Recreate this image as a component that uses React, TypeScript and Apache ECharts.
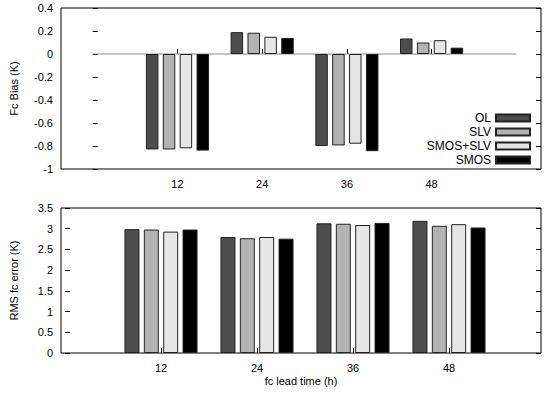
import React, { useEffect, useRef } from "react";
import * as echarts from "echarts";

const leadTimes = [12, 24, 36, 48];
const seriesNames = ["OL", "SLV", "SMOS+SLV", "SMOS"];
const seriesColors = ["#4d4d4d", "#b3b3b3", "#e6e6e6", "#000000"];

const biasOL = [-0.83, 0.19, -0.8, 0.135];
const biasSLV = [-0.83, 0.185, -0.795, 0.1];
const biasSMOSSLV = [-0.82, 0.15, -0.78, 0.12];
const biasSMOS = [-0.84, 0.14, -0.845, 0.055];

const rmsOL = [2.99, 2.8, 3.13, 3.19];
const rmsSLV = [2.98, 2.77, 3.12, 3.07];
const rmsSMOSSLV = [2.93, 2.8, 3.09, 3.11];
const rmsSMOS = [2.98, 2.76, 3.14, 3.03];

const zeroLineX = [0, 60];

const biasData = [biasOL, biasSLV, biasSMOSSLV, biasSMOS];
const rmsData = [rmsOL, rmsSLV, rmsSMOSSLV, rmsSMOS];

const FONT = "Liberation Sans";

export default function App() {
  const ref = useRef<HTMLDivElement>(null);
  useEffect(() => {
    if (!ref.current) return;
    const chart = echarts.init(ref.current, null, { renderer: "svg" });
    const labelStyle = { color: "#000", fontFamily: FONT, fontSize: 11 };
    const xAxisCommon = (gridIndex: number, min: number, max: number, withName: boolean) => ({
      type: "value",
      gridIndex,
      min,
      max,
      axisLine: { show: false },
      splitLine: { show: false },
      axisTick: { show: true, inside: true, length: 5, customValues: leadTimes, lineStyle: { color: "#000" } },
      axisLabel: { ...labelStyle, margin: 9, customValues: leadTimes },
      name: withName ? "fc lead time (h)" : "",
      nameLocation: "middle",
      nameGap: 22,
      nameTextStyle: { color: "#000", fontFamily: FONT, fontSize: 11 },
    });
    const yAxisLeft = (gridIndex: number, min: number, max: number, interval: number, name: string) => ({
      type: "value",
      gridIndex,
      min,
      max,
      interval,
      position: "left",
      axisLine: { show: false },
      splitLine: { show: false },
      axisTick: { show: true, inside: true, length: 5, lineStyle: { color: "#000" } },
      axisLabel: { ...labelStyle, margin: 8 },
      name,
      nameLocation: "middle",
      nameGap: 42,
      nameTextStyle: { color: "#000", fontFamily: FONT, fontSize: 11 },
    });
    const yAxisRight = (gridIndex: number, min: number, max: number, interval: number) => ({
      type: "value",
      gridIndex,
      min,
      max,
      interval,
      position: "right",
      axisLine: { show: false },
      splitLine: { show: false },
      axisTick: { show: true, inside: true, length: 5, lineStyle: { color: "#000" } },
      axisLabel: { show: false },
    });

    const series: any[] = [];
    seriesNames.forEach((name, i) => {
      series.push({
        type: "bar",
        name,
        xAxisIndex: 0,
        yAxisIndex: 0,
        data: leadTimes.map((t, j) => [t, biasData[i][j]]),
        barWidth: 12.5,
        barGap: "35%",
        itemStyle: { color: seriesColors[i], borderColor: "#222", borderWidth: 1 },
      });
    });
    seriesNames.forEach((name, i) => {
      series.push({
        type: "bar",
        name,
        xAxisIndex: 1,
        yAxisIndex: 2,
        data: leadTimes.map((t, j) => [t, rmsData[i][j]]),
        barWidth: 15,
        barGap: "29%",
        itemStyle: { color: seriesColors[i], borderColor: "#222", borderWidth: 1 },
      });
    });
    series.push({
      type: "line",
      name: "zero",
      xAxisIndex: 0,
      yAxisIndex: 0,
      data: zeroLineX.map((x) => [x, 0]),
      symbol: "none",
      lineStyle: { color: "#888", width: 1 },
      z: 1,
    });

    chart.setOption({
      animation: false,
      backgroundColor: "#fff",
      grid: [
        { left: 57, top: 8, right: 9, height: 161, show: true, borderColor: "#000", borderWidth: 1, backgroundColor: "transparent" },
        { left: 57, top: 208, right: 9, height: 145, show: true, borderColor: "#000", borderWidth: 1, backgroundColor: "transparent" },
      ],
      xAxis: [xAxisCommon(0, -4.5, 63.5, false), xAxisCommon(1, -0.5, 59.5, true)],
      yAxis: [
        yAxisLeft(0, -1, 0.4, 0.2, "Fc Bias (K)"),
        yAxisRight(0, -1, 0.4, 0.2),
        yAxisLeft(1, 0, 3.5, 0.5, "RMS fc error (K)"),
        yAxisRight(1, 0, 3.5, 0.5),
      ],
      legend: {
        data: seriesNames,
        orient: "vertical",
        right: 19,
        top: 112,
        align: "right",
        itemWidth: 34,
        itemHeight: 7,
        itemGap: 2,
        icon: "rect",
        textStyle: { color: "#000", fontFamily: FONT, fontSize: 12, lineHeight: 12, padding: [0, 0, 0, 0] },
        padding: 0,
      },
      series,
    });
    return () => chart.dispose();
  }, []);
  return <div ref={ref} style={{ position: "fixed", left: 0, top: 0, width: 550, height: 393 }} />;
}
